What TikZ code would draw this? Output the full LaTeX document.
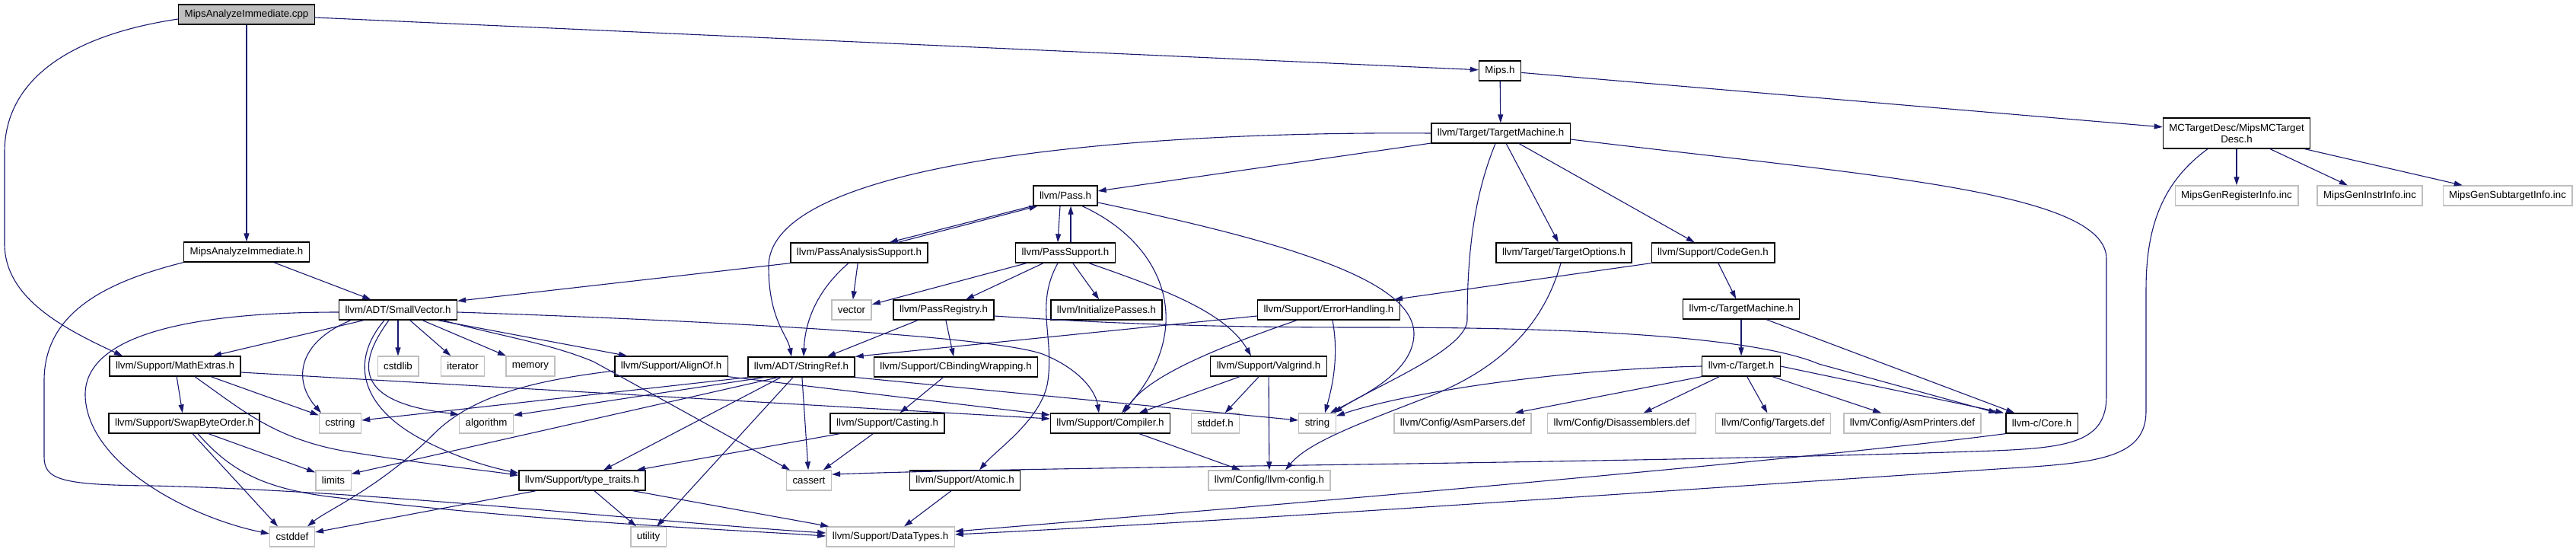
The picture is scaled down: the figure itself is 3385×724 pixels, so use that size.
\documentclass[tikz,border=0pt]{standalone}
\usepackage{fontspec}
\setmainfont{Liberation Sans}
\usetikzlibrary{arrows.meta}
\definecolor{edgeblue}{HTML}{191970}
\definecolor{sysgray}{HTML}{BFBFBF}

\begin{document}
\begin{tikzpicture}[
    x=1pt,
    y=-1pt,
    >={Triangle[length=11pt,width=7pt]},
    file/.style={
        draw=black,
        line width=1.3pt,
        fill=white,
        inner xsep=8pt,
        inner ysep=2pt,
        minimum height=26pt,
        font=\fontsize{13.3}{15}\selectfont
    },
    sys/.style={file, draw=sysgray},
    root/.style={file, fill=sysgray},
    dep/.style={
        ->,
        line width=1.1pt,
        draw=edgeblue
    }
]
    \useasboundingbox (0,0) rectangle (3385,724);

    % Soubory projektu
    \node[root] (cpp) at (324,19) {MipsAnalyzeImmediate.cpp};
    \node[file, minimum height=40pt, align=center] (mctd) at (2939,175) {MCTargetDesc/MipsMCTarget\\Desc.h};
    \foreach \nm/\px/\py/\fname in {
        maih/324/331/MipsAnalyzeImmediate.h,
        mips/1971/93/Mips.h,
        tm/1972/175/{llvm/Target/TargetMachine.h},
        pass/1400/257/{llvm/Pass.h},
        pas/1129/332/{llvm/PassAnalysisSupport.h},
        ps/1400/332/{llvm/PassSupport.h},
        topt/2055/332/{llvm/Target/TargetOptions.h},
        codegen/2251/332/{llvm/Support/CodeGen.h},
        smallvec/523/407/{llvm/ADT/SmallVector.h},
        preg/1240/407/{llvm/PassRegistry.h},
        initp/1454/407/{llvm/InitializePasses.h},
        errh/1746/407/{llvm/Support/ErrorHandling.h},
        ctm/2288/406/{llvm-c/TargetMachine.h},
        mathx/230/481/{llvm/Support/MathExtras.h},
        alignof/882/481/{llvm/Support/AlignOf.h},
        stringref/1053/482/{llvm/ADT/StringRef.h},
        cbind/1256/482/{llvm/Support/CBindingWrapping.h},
        valgrind/1667/481/{llvm/Support/Valgrind.h},
        ctarget/2288/481/{llvm-c/Target.h},
        swapb/242/556/{llvm/Support/SwapByteOrder.h},
        casting/1166/556/{llvm/Support/Casting.h},
        compiler/1459/556/{llvm/Support/Compiler.h},
        core/2683/556/{llvm-c/Core.h},
        typetraits/765/631/{llvm/Support/type\_traits.h},
        atomic/1268/631/{llvm/Support/Atomic.h}}{
        \node[file] (\nm) at (\px,\py) {\fname};
    }

    % Systemove a generovane soubory
    \foreach \nm/\px/\py/\fname in {
        reginfo/2939/257/MipsGenRegisterInfo.inc,
        instrinfo/3114/257/MipsGenInstrInfo.inc,
        subinfo/3295/257/MipsGenSubtargetInfo.inc,
        vector/1119/407/vector,
        cstdlib/523/481/cstdlib,
        iterator/608/481/iterator,
        memory/697/481/memory,
        cstring/447/556/cstring,
        algorithm/639/556/algorithm,
        stddefh/1597/556/stddef.h,
        string/1731/556/string,
        asmparsers/1922/556/{llvm/Config/AsmParsers.def},
        disasm/2131/556/{llvm/Config/Disassemblers.def},
        targets/2330/556/{llvm/Config/Targets.def},
        asmprinters/2513/556/{llvm/Config/AsmPrinters.def},
        limits/438/631/limits,
        cassert/1063/631/cassert,
        llvmconfig/1668/631/{llvm/Config/llvm-config.h},
        cstddef/384/705/cstddef,
        utility/852/705/utility,
        datatypes/1170/705/{llvm/Support/DataTypes.h}}{
        \node[sys] (\nm) at (\px,\py) {\fname};
    }

    % Rovne hrany
    \foreach \src/\dst in {
        cpp/maih, cpp/mips, maih/smallvec, mips/tm, mips/mctd,
        mctd/reginfo, mctd/instrinfo, mctd/subinfo,
        tm/pass, tm/topt, tm/codegen,
        ps/vector, ps/preg, ps/initp, pas/vector,
        preg/stringref, preg/cbind, codegen/ctm, ctm/ctarget,
        ctarget/disasm, ctarget/targets, ctarget/asmprinters,
        valgrind/compiler, valgrind/stddefh, valgrind/llvmconfig,
        compiler/llvmconfig, atomic/datatypes, cbind/casting,
        casting/cassert, stringref/cassert,
        smallvec/cstdlib, smallvec/iterator, smallvec/memory,
        mathx/swapb, typetraits/utility}{
        \draw[dep] (\src) -- (\dst);
    }

    % Hrany s posunutymi konci
    \draw[dep] ([xshift=-1pt]pass.south west) -- ([xshift=-51pt]pas.north east);
    \draw[dep] ([xshift=-40pt]pas.north east) -- ([xshift=6pt]pass.south west);
    \draw[dep] ([xshift=-7pt]pass.south) -- ([xshift=-10pt]ps.north);
    \draw[dep] ([xshift=7pt]ps.north) -- ([xshift=7pt]pass.south);
    \draw[dep] (pas.south west) -- ([yshift=-2pt]smallvec.north east);
    \draw[dep] ([yshift=-8pt]errh.west) -- (stringref.north east);
    \draw[dep] (codegen.south west) -- ([xshift=-8pt]errh.north east);
    \draw[dep] (ctarget.south west) -- ([xshift=-22pt]asmparsers.north east);
    \draw[dep] (ctarget.east) -- ([xshift=-2pt]core.north west);
    \draw[dep] ([xshift=33pt]ctm.south) -- ([xshift=12pt]core.north west);
    \draw[dep] ([xshift=13pt]casting.south west) -- ([xshift=-12pt]typetraits.north east);
    \draw[dep] (stringref.south west) -- ([yshift=4pt]cstring.east);
    \draw[dep] ([xshift=22pt]stringref.south west) -- ([yshift=-3pt]algorithm.north east);
    \draw[dep] ([xshift=40pt]stringref.south west) -- ([yshift=-5pt]limits.north east);
    \draw[dep] ([xshift=-27pt]stringref.south) -- ([xshift=28pt]typetraits.north);
    \draw[dep] ([xshift=-11pt]stringref.south) -- ([xshift=11pt]utility.north);
    \draw[dep] (stringref.south east) -- ([yshift=4pt]string.west);
    \draw[dep] ([xshift=-45pt]smallvec.south) -- ([xshift=50pt]mathx.north);
    \draw[dep] ([xshift=52pt]smallvec.south) -- ([xshift=-58pt]alignof.north);
    \draw[dep] ([xshift=47pt]mathx.south) -- ([yshift=-3pt]cstring.north west);
    \draw[dep] ([yshift=-8pt]mathx.east) -- ([yshift=6pt]compiler.west);
    \draw[dep] (alignof.south east) -- ([yshift=11pt]compiler.west);
    \draw[dep] ([xshift=32pt]swapb.south) -- ([yshift=-3pt]limits.north west);
    \draw[dep] ([xshift=11pt]swapb.south) -- ([xshift=-19pt]cstddef.north);
    \draw[dep] ([xshift=23pt]typetraits.south west) -- ([yshift=6pt]cstddef.east);
    \draw[dep] ([xshift=-17pt]typetraits.south east) -- ([xshift=4pt]datatypes.north west);

    % Zakrivene hrany
    \draw[dep] ([yshift=-6pt]cpp.west) .. controls (100,45) and (6,100) .. (6,200)
        -- (6,320) .. controls (6,390) and (80,430) .. ([xshift=-69pt]mathx.north);
    \draw[dep] (maih.south west) .. controls (140,370) and (58,410) .. (58,500)
        -- (58,600) .. controls (58,630) and (80,637) .. (200,638)
        .. controls (500,645) and (850,685) .. ([yshift=5pt]datatypes.west);
    \draw[dep] ([xshift=-38pt]mctd.south) .. controls (2840,240) and (2820,300) .. (2820,380)
        -- (2820,540) .. controls (2820,600) and (2760,608) .. (2640,615)
        .. controls (2100,650) and (1700,680) .. ([yshift=3pt]datatypes.east);
    \draw[dep] ([yshift=-8pt]tm.east) .. controls (2450,230) and (2768,250) .. (2768,340)
        -- (2768,520) .. controls (2768,580) and (2720,588) .. (2620,592)
        .. controls (2100,610) and (1400,612) .. ([yshift=8pt]cassert.east);
    \draw[dep] (tm.west) .. controls (1500,172) and (1010,210) .. (1010,350)
        .. controls (1010,420) and (1035,440) .. ([xshift=-13pt]stringref.north);
    \draw[dep] ([xshift=-7pt]tm.south) .. controls (1940,250) and (1928,320) .. (1928,420)
        .. controls (1928,460) and (1800,510) .. ([xshift=-3pt]string.north east);
    \draw[dep] ([yshift=-9pt]pass.east) .. controls (1700,320) and (1860,370) .. (1858,440)
        .. controls (1856,490) and (1790,520) .. ([xshift=-8pt]string.north east);
    \draw[dep] ([xshift=22pt]pass.south) .. controls (1530,320) and (1575,430) .. ([xshift=15pt]compiler.north);
    \draw[dep] ([xshift=-10pt]ps.south) .. controls (1360,400) and (1385,440) .. (1377,500)
        .. controls (1370,550) and (1310,590) .. ([xshift=19pt]atomic.north);
    \draw[dep] ([xshift=31pt]ps.south) .. controls (1530,380) and (1610,410) .. ([xshift=-23pt]valgrind.north);
    \draw[dep] ([xshift=-14pt]pas.south) .. controls (1075,380) and (1058,420) .. ([xshift=3pt]stringref.north);
    \draw[dep] ([yshift=-8pt]preg.east) .. controls (1500,428) and (1650,430) .. (1800,430)
        .. controls (2050,430) and (2300,440) .. (2390,478) -- ([xshift=-11pt]core.north west);
    \draw[dep] ([xshift=-42pt]errh.south) .. controls (1620,450) and (1510,490) .. ([xshift=18pt]compiler.north);
    \draw[dep] ([xshift=5pt]errh.south) .. controls (1760,470) and (1750,510) .. ([xshift=10pt]string.north);
    \draw[dep] (ctarget.west) .. controls (2050,485) and (1850,515) .. ([yshift=-4pt]string.north east);
    \draw[dep] ([xshift=-4pt]topt.south) .. controls (2030,420) and (1980,480) .. (1880,520)
        .. controls (1790,555) and (1720,580) .. ([xshift=21pt]llvmconfig.north);
    \draw[dep] (core.south west) .. controls (2400,600) and (1900,645) .. ([yshift=7pt]datatypes.east);
    \draw[dep] ([yshift=-3pt]smallvec.west) .. controls (250,410) and (110,440) .. (112,520)
        .. controls (115,610) and (250,680) .. ([yshift=4pt]cstddef.west);
    \draw[dep] ([xshift=-62pt]smallvec.south) .. controls (390,450) and (385,500) .. ([xshift=-25pt]cstring.north);
    \draw[dep] ([xshift=-18pt]smallvec.south) .. controls (455,480) and (480,540) .. (560,580)
        .. controls (610,605) and (650,615) .. ([yshift=-4pt]typetraits.north west);
    \draw[dep] ([xshift=-12pt]smallvec.south) .. controls (460,490) and (480,530) .. ([yshift=-2pt]algorithm.north west);
    \draw[dep] ([xshift=59pt]smallvec.south) .. controls (650,440) and (720,450) .. (780,475)
        -- ([xshift=-25pt]cassert.north);
    \draw[dep] ([yshift=-3pt]smallvec.east) .. controls (900,420) and (1300,440) .. (1370,465)
        .. controls (1420,485) and (1440,515) .. ([xshift=-15pt]compiler.north);
    \draw[dep] ([xshift=26pt]mathx.south) .. controls (320,540) and (360,575) .. (450,592)
        .. controls (560,610) and (640,618) .. ([yshift=-7pt]typetraits.north west);
    \draw[dep] ([yshift=-6pt]alignof.west) .. controls (700,500) and (620,520) .. (570,570)
        .. controls (500,640) and (430,670) .. ([xshift=20pt]cstddef.north);
    \draw[dep] ([xshift=18pt]swapb.south) .. controls (300,615) and (340,640) .. (430,652)
        .. controls (700,685) and (950,695) .. ([yshift=1pt]datatypes.west);

\end{tikzpicture}
\end{document}
